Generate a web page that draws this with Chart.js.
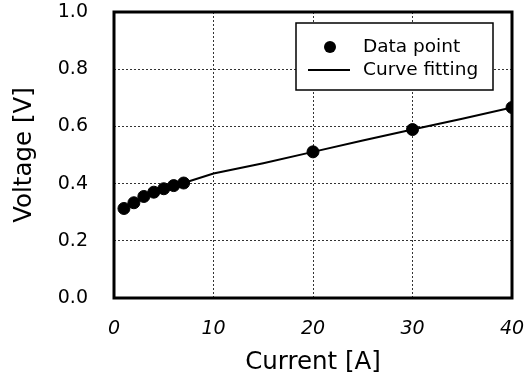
<!DOCTYPE html>
<html>
<head>
<meta charset="utf-8">
<script src="https://cdn.jsdelivr.net/npm/chart.js"></script>
<style>
  html, body { margin: 0; padding: 0; background: #fff; }
  #wrap { width: 529px; height: 381px; }
</style>
</head>
<body>
<div id="wrap"><canvas id="chart" width="529" height="381"></canvas></div>
<script>
// measured points
const currentA = [1, 2, 3, 4, 5, 6, 7, 20, 30, 40];
const voltageV = [0.313, 0.333, 0.355, 0.37, 0.382, 0.393, 0.402, 0.511, 0.589, 0.666];

// fitted curve
const fitCurrent = [1, 2, 3, 4, 5, 6, 7, 10, 15, 20, 25, 30, 35, 40];
const fitVoltage = [0.313, 0.333, 0.355, 0.37, 0.382, 0.393, 0.402, 0.435, 0.471, 0.511, 0.551, 0.589, 0.627, 0.666];

const xTicks = [0, 10, 20, 30, 40];
const yTicks = [0.0, 0.2, 0.4, 0.6, 0.8, 1.0];

const FONT = "'DejaVu Sans', Verdana, sans-serif";

// frame around the plot area + legend box inside it
const framePlugin = {
    id: 'frame',
    afterDraw(chart) {
        const ctx = chart.ctx;
        const a = chart.chartArea;
        ctx.save();
        ctx.strokeStyle = '#000';
        ctx.lineWidth = 3;
        ctx.strokeRect(a.left, a.top, a.right - a.left, a.bottom - a.top);

        // legend
        const bx = 296, by = 23, bw = 197, bh = 67;
        ctx.fillStyle = '#fff';
        ctx.fillRect(bx, by, bw, bh);
        ctx.lineWidth = 1.5;
        ctx.strokeRect(bx, by, bw, bh);

        const ds = chart.data.datasets;
        ctx.fillStyle = '#000';
        ctx.font = '18.5px ' + FONT;
        ctx.textBaseline = 'middle';
        // data point entry
        ctx.beginPath();
        ctx.arc(330, 47, 6, 0, Math.PI * 2);
        ctx.fill();
        ctx.fillText(ds[0].label, 363, 47);
        // curve entry
        ctx.beginPath();
        ctx.lineWidth = 2;
        ctx.moveTo(308, 70);
        ctx.lineTo(350, 70);
        ctx.stroke();
        ctx.fillText(ds[1].label, 363, 70);
        ctx.restore();
    }
};

new Chart(document.getElementById('chart'), {
    type: 'scatter',
    data: {
        datasets: [
            {
                label: 'Data point',
                data: currentA.map((x, i) => ({ x: x, y: voltageV[i] })),
                backgroundColor: '#000',
                borderColor: '#000',
                pointRadius: 6,
                showLine: false,
                order: 0
            },
            {
                label: 'Curve fitting',
                data: fitCurrent.map((x, i) => ({ x: x, y: fitVoltage[i] })),
                borderColor: '#000',
                borderWidth: 2,
                pointRadius: 0,
                showLine: true,
                tension: 0,
                order: 1
            }
        ]
    },
    options: {
        responsive: false,
        animation: false,
        layout: { padding: { left: 0, right: 17, top: 12, bottom: 0 } },
        plugins: {
            legend: { display: false },
            tooltip: { enabled: false }
        },
        scales: {
            x: {
                type: 'linear',
                min: 0,
                max: 40,
                afterBuildTicks: s => { s.ticks = xTicks.map(v => ({ value: v })); },
                afterFit: s => { s.height = 83; s.paddingLeft = 0; s.paddingRight = 0; },
                grid: { color: '#333', lineWidth: 1, drawTicks: false },
                border: { display: false, dash: [2, 2] },
                ticks: {
                    color: '#000',
                    padding: 20,
                    maxRotation: 0,
                    font: { family: FONT, size: 19, style: 'italic' }
                },
                title: {
                    display: true,
                    text: 'Current [A]',
                    color: '#000',
                    padding: { top: 0, bottom: 4 },
                    font: { family: FONT, size: 24.5 }
                }
            },
            y: {
                type: 'linear',
                min: 0,
                max: 1,
                afterBuildTicks: s => { s.ticks = yTicks.map(v => ({ value: v })); },
                afterFit: s => { s.width = 114; s.paddingTop = 0; s.paddingBottom = 0; },
                grid: { color: '#333', lineWidth: 1, drawTicks: false },
                border: { display: false, dash: [2, 2] },
                ticks: {
                    color: '#000',
                    padding: 26,
                    callback: v => v.toFixed(1),
                    font: { family: FONT, size: 19 }
                },
                title: {
                    display: true,
                    text: 'Voltage [V]',
                    color: '#000',
                    padding: { top: 10, bottom: 0 },
                    font: { family: FONT, size: 24.5 }
                }
            }
        }
    },
    plugins: [framePlugin]
});
</script>
</body>
</html>
